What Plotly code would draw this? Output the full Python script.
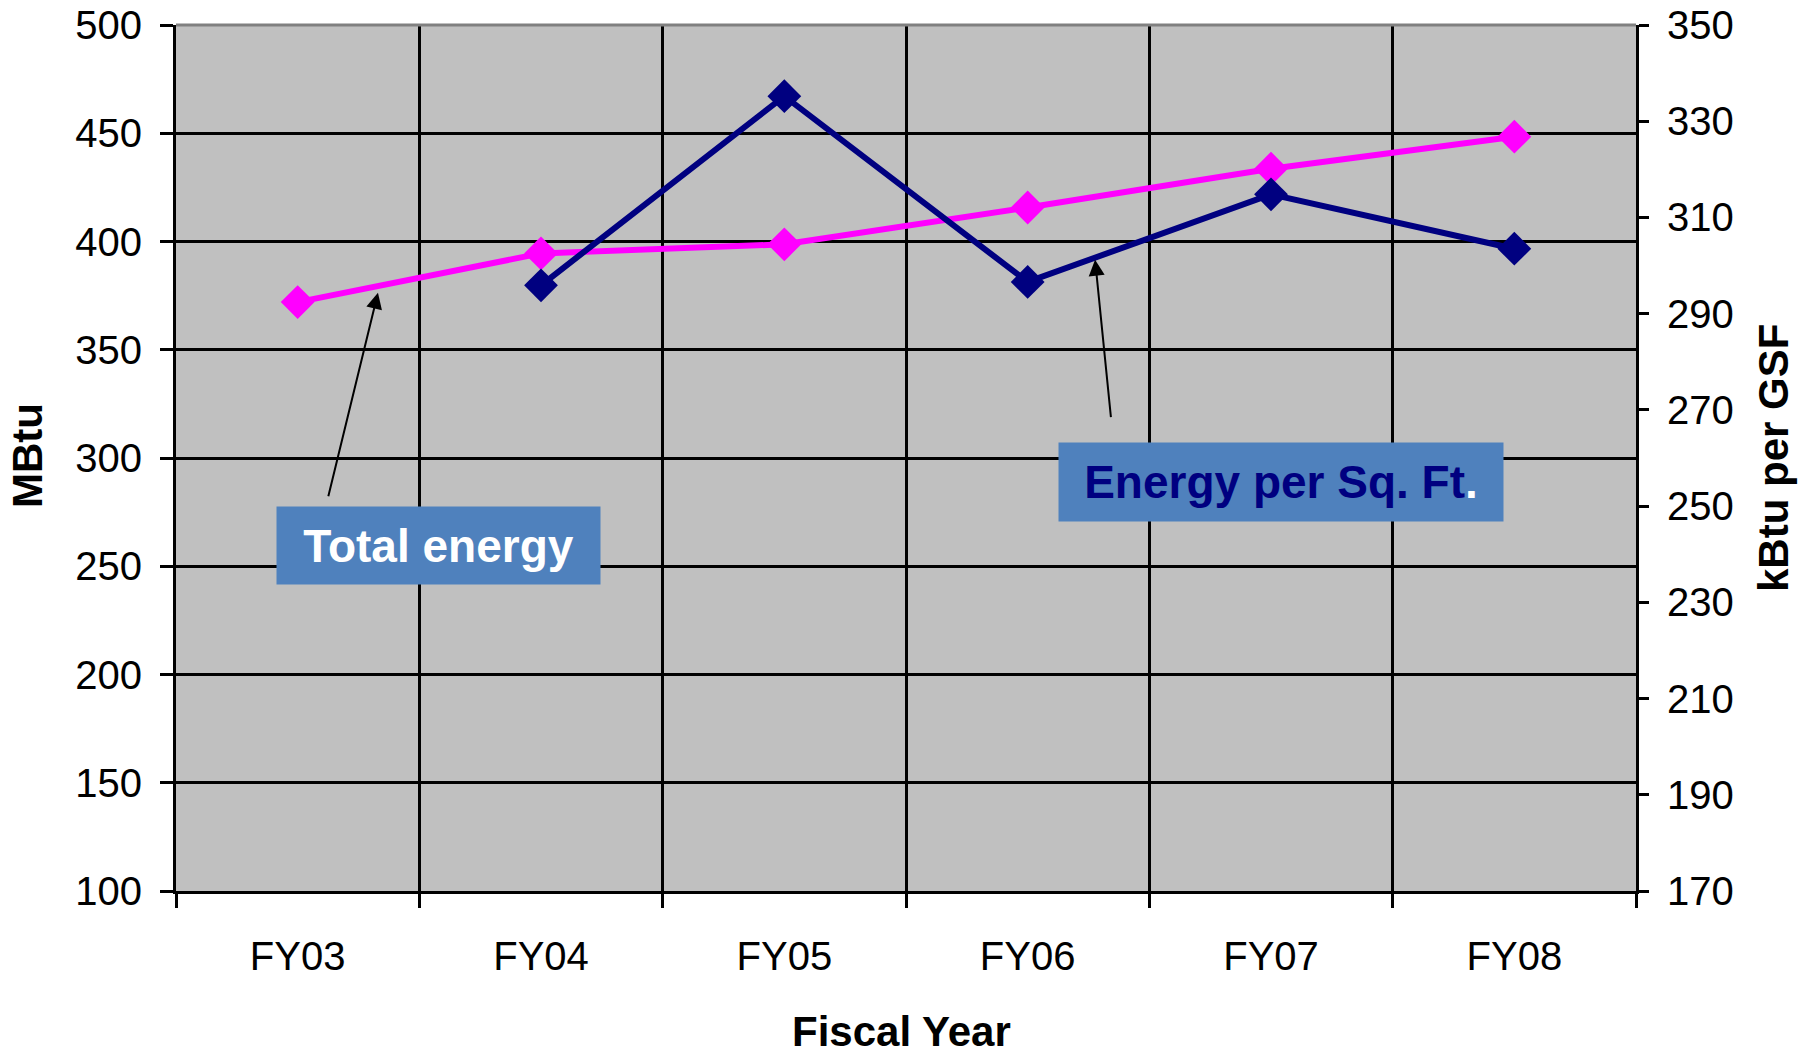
import plotly.graph_objects as go

# Fiscal years and annual energy figures
years = ["FY03", "FY04", "FY05", "FY06", "FY07", "FY08"]
total_energy_mbtu = [372, 394.5, 398.7, 415.7, 433.6, 448.4]
energy_per_sqft_kbtu = [None, 295.9, 335.2, 296.6, 314.8, 303.5]

left_ticks = [100, 150, 200, 250, 300, 350, 400, 450, 500]
right_ticks = [170, 190, 210, 230, 250, 270, 290, 310, 330, 350]

FONT = "Liberation Sans, Arial, sans-serif"
PINK = "#FF00FF"
NAVY = "#000080"
BOX = "#4F81BD"

fig = go.Figure()

fig.add_trace(go.Scatter(
    x=years, y=total_energy_mbtu, name="Total energy",
    mode="lines+markers",
    line=dict(color=PINK, width=6),
    marker=dict(symbol="diamond", size=26, color=PINK),
    yaxis="y",
))
fig.add_trace(go.Scatter(
    x=years, y=energy_per_sqft_kbtu, name="Energy per Sq. Ft.",
    mode="lines+markers",
    line=dict(color=NAVY, width=6),
    marker=dict(symbol="diamond", size=26, color=NAVY),
    connectgaps=False,
    yaxis="y2",
))

axis_font = dict(family=FONT, size=40, color="black")

fig.update_layout(
    width=1812, height=1054,
    margin=dict(l=176, r=176, t=25, b=163),
    paper_bgcolor="white",
    plot_bgcolor="#C0C0C0",
    showlegend=False,
    font=dict(family=FONT, color="black"),
    xaxis=dict(
        type="category", range=[-0.5, 5.5], automargin=False,
        tickson="boundaries", ticks="outside", ticklen=14, tickwidth=2.5, tickcolor="black",
        showgrid=True, gridcolor="black", gridwidth=2.5,
        showline=True, linecolor="black", linewidth=3,
        tickfont=axis_font, ticklabelstandoff=28,
        zeroline=False,
    ),
    yaxis=dict(
        range=[100, 500], tickvals=left_ticks, automargin=False,
        ticks="outside", ticklen=13, tickwidth=2.5, tickcolor="black",
        showgrid=True, gridcolor="black", gridwidth=2.5,
        showline=True, linecolor="black", linewidth=3,
        tickfont=axis_font, ticklabelstandoff=10,
        zeroline=False,
    ),
    yaxis2=dict(
        range=[170, 350], tickvals=right_ticks, automargin=False,
        overlaying="y", side="right",
        ticks="outside", ticklen=10, tickwidth=2.5, tickcolor="black",
        showgrid=False,
        showline=True, linecolor="black", linewidth=3,
        tickfont=axis_font, ticklabelstandoff=10,
        zeroline=False,
    ),
    yaxis3=dict(
        range=[170, 350], tickvals=right_ticks, automargin=False,
        overlaying="y", side="right",
        ticks="inside", ticklen=14, tickwidth=2.5, tickcolor="black",
        showgrid=False, showline=False, showticklabels=False,
        zeroline=False,
    ),
)

# gray top border of the plotting area
fig.add_shape(type="line", xref="paper", yref="paper", x0=0, x1=1, y0=1, y1=1,
              line=dict(color="#808080", width=3), layer="above")

PW, PH, PL, PT = 1460, 866, 176, 25


def px_x(v):
    return (v - PL) / PW


def px_y(v):
    return 1 - (v - PT) / PH


title_font = dict(family=FONT, size=42, color="black")
fig.add_annotation(text="<b>MBtu</b>", xref="paper", yref="paper",
                   x=px_x(28), y=px_y(456), textangle=-90, showarrow=False,
                   font=title_font, xanchor="center", yanchor="middle")
fig.add_annotation(text="<b>kBtu per GSF</b>", xref="paper", yref="paper",
                   x=px_x(1773), y=px_y(458), textangle=-90, showarrow=False,
                   font=title_font, xanchor="center", yanchor="middle")
fig.add_annotation(text="<b>Fiscal Year</b>", xref="paper", yref="paper",
                   x=px_x(901), y=px_y(1031), showarrow=False,
                   font=title_font, xanchor="center", yanchor="middle")

# pointer arrows
fig.add_annotation(x=0.33, y=376.3, xref="x", yref="y", text="", showarrow=True,
                   ax=-50, ay=205, arrowhead=2, arrowsize=1.6, arrowwidth=2, arrowcolor="black")
fig.add_annotation(x=3.277, y=391.6, xref="x", yref="y", text="", showarrow=True,
                   ax=16, ay=159, arrowhead=2, arrowsize=1.6, arrowwidth=2, arrowcolor="black")

# series call-out boxes
label_font = dict(family=FONT, size=46)
fig.add_annotation(text="<b>Total energy</b>", xref="paper", yref="paper",
                   x=px_x(438.5), y=px_y(545.5),
                   showarrow=False, bgcolor=BOX, borderpad=0, width=323, height=77,
                   font=dict(label_font, color="white"), align="center",
                   xanchor="center", yanchor="middle")
fig.add_annotation(text="<b>Energy per Sq. Ft<span style='color:white'>.</span></b>",
                   xref="paper", yref="paper",
                   x=px_x(1281), y=px_y(482),
                   showarrow=False, bgcolor=BOX, borderpad=0, width=444, height=78,
                   font=dict(label_font, color=NAVY), align="center",
                   xanchor="center", yanchor="middle")

fig.write_html("out.html")
